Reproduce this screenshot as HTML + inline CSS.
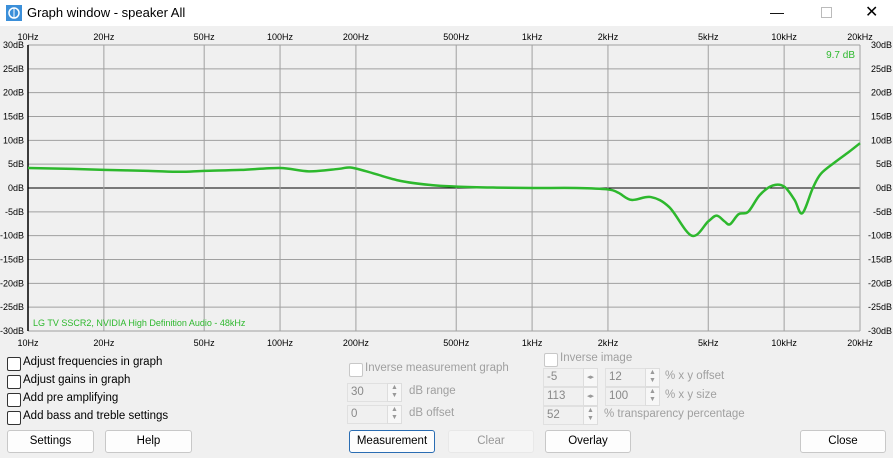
<!DOCTYPE html>
<html><head><meta charset="utf-8"><style>
body{margin:0;width:893px;height:458px;background:#f0f0f0;font-family:"Liberation Sans",sans-serif;position:relative;overflow:hidden}
.a{position:absolute}
.t{font-size:11.5px;color:#000}
.g{color:#a0a0a0}
.cb{position:absolute;width:12px;height:12px;border:1px solid #333;background:#fff;border-radius:2px}
.cbd{border-color:#c8c8c8}
.btn{position:absolute;height:21px;border:1px solid #c8c8c8;background:#fdfdfd;border-radius:3px;font-size:11.5px;text-align:center;line-height:21px}
.inp{position:absolute;height:17px;background:#f0f0f0;border:1px solid #e0e0e0;font-size:11.5px;color:#888;line-height:17px;padding-left:3px}
.spin{position:absolute;width:13px;height:17px;border:1px solid #ddd;background:#f7f7f7;font-size:7px;color:#999;text-align:center;line-height:8px}
</style></head><body>
<div class="a" style="left:0;top:0;width:893px;height:26px;background:#fff"></div>
<svg class="a" style="left:6px;top:5px" width="16" height="16"><rect x="0" y="0" width="16" height="16" fill="#3b8fd9"/><circle cx="8" cy="8" r="5" fill="none" stroke="#fff" stroke-width="1.5"/><line x1="8" y1="3" x2="8" y2="13" stroke="#fff"/></svg>
<div class="a t" style="left:27px;top:5px;font-size:13px">Graph window - speaker All</div>
<div class="a" style="left:770px;top:4px;font-size:14px">—</div>
<div class="a" style="left:821px;top:4px;width:9px;height:9px;border:1px solid #bbb;margin-top:3px"></div>
<div class="a" style="left:865px;top:2px;font-size:16px">✕</div>

<svg id="chart" class="a" style="left:0;top:26px" width="893" height="324"></svg>

<div class="cb" style="left:7px;top:357px"></div>
<div class="a t" style="left:23px;top:356px">Adjust frequencies in graph</div>
<div class="cb" style="left:7px;top:375px"></div>
<div class="a t" style="left:23px;top:374px">Adjust gains in graph</div>
<div class="cb" style="left:7px;top:393px"></div>
<div class="a t" style="left:23px;top:392px">Add pre amplifying</div>
<div class="cb" style="left:7px;top:411px"></div>
<div class="a t" style="left:23px;top:410px">Add bass and treble settings</div>

<div class="cb cbd" style="left:349px;top:363px"></div>
<div class="a t g" style="left:365px;top:362px">Inverse measurement graph</div>
<div class="inp" style="left:347px;top:383px;width:36px">30</div>
<div class="spin" style="left:387px;top:383px">▲<br>▼</div>
<div class="a t g" style="left:409px;top:385px">dB range</div>
<div class="inp" style="left:347px;top:405px;width:36px">0</div>
<div class="spin" style="left:387px;top:405px">▲<br>▼</div>
<div class="a t g" style="left:409px;top:407px">dB offset</div>

<div class="cb cbd" style="left:544px;top:353px"></div>
<div class="a t g" style="left:560px;top:352px">Inverse image</div>
<div class="inp" style="left:543px;top:368px;width:36px">-5</div>
<div class="spin" style="left:583px;top:368px;line-height:17px">◂▸</div>
<div class="inp" style="left:605px;top:368px;width:36px">12</div>
<div class="spin" style="left:645px;top:368px">▲<br>▼</div>
<div class="a t g" style="left:665px;top:370px">% x y offset</div>
<div class="inp" style="left:543px;top:387px;width:36px">113</div>
<div class="spin" style="left:583px;top:387px;line-height:17px">◂▸</div>
<div class="inp" style="left:605px;top:387px;width:36px">100</div>
<div class="spin" style="left:645px;top:387px">▲<br>▼</div>
<div class="a t g" style="left:665px;top:389px">% x y size</div>
<div class="inp" style="left:543px;top:406px;width:36px">52</div>
<div class="spin" style="left:583px;top:406px">▲<br>▼</div>
<div class="a t g" style="left:604px;top:408px">% transparency percentage</div>

<div class="btn" style="left:7px;top:430px;width:85px">Settings</div>
<div class="btn" style="left:105px;top:430px;width:85px">Help</div>
<div class="btn" style="left:349px;top:430px;width:84px;border-color:#2a6db3">Measurement</div>
<div class="btn" style="left:448px;top:430px;width:84px;color:#999;background:#f5f5f5;border-color:#e8e8e8">Clear</div>
<div class="btn" style="left:545px;top:430px;width:84px">Overlay</div>
<div class="btn" style="left:800px;top:430px;width:84px">Close</div>

<script>
const freqs=[10,15,20,30,40,50,70,100,130,170,190,220,300,400,500,700,1000,1500,2000,2200,2480,2960,3500,4300,5000,5400,5800,6100,6600,7200,8000,9000,10000,11000,11800,13000,14000,16000,18000,20000];
const gains=[4.2,4,3.8,3.6,3.4,3.6,3.8,4.2,3.5,4,4.3,3.5,1.5,0.6,0.3,0.1,0,0,-0.3,-1,-2.5,-1.9,-4,-10,-7,-5.8,-7,-7.6,-5.5,-5,-1.5,0.5,0.3,-2.5,-5.3,0,3,5.5,7.5,9.4];
const xTicks=[10,20,50,100,200,500,1000,2000,5000,10000,20000];
const xTickLabels=["10Hz","20Hz","50Hz","100Hz","200Hz","500Hz","1kHz","2kHz","5kHz","10kHz","20kHz"];
const yTicks=[30,25,20,15,10,5,0,-5,-10,-15,-20,-25,-30];
const peakLabel="9.7 dB";
const ns="http://www.w3.org/2000/svg";
const svg=document.getElementById('chart');
const L=28,R=860,T=19,B=305;
const xs=f=>L+(R-L)*Math.log10(f/10)/Math.log10(2000);
const ys=d=>T+(B-T)*(30-d)/60;
function mk(tag,at,txt){const e=document.createElementNS(ns,tag);for(const k in at)e.setAttribute(k,at[k]);if(txt!==undefined)e.textContent=txt;svg.appendChild(e);return e;}
const bg=mk('rect',{x:L,y:T,width:R-L,height:B-T,fill:'#f0f0f0'});


yTicks.forEach(d=>{const y=ys(d);
 const l=mk('line',{x1:L,x2:R,y1:y,y2:y,stroke:d===0?'#000':'#a0a0a0','stroke-width':1});
 
 
 const t1=mk('text',{x:L-4,y:y+3,'text-anchor':'end','font-size':9,fill:'#000'},d+'dB');
 
 
 const t2=mk('text',{x:R+32,y:y+3,'text-anchor':'end','font-size':9,fill:'#000'},d+'dB');
 
 
});
xTicks.forEach((f,i)=>{const x=xs(f);
 const l=mk('line',{x1:x,x2:x,y1:T,y2:B,stroke:i===0?'#000':'#a0a0a0','stroke-width':i===0?1.5:1});
 
 
 const t1=mk('text',{x:x,y:T-5,'text-anchor':'middle','font-size':9,fill:'#000'},xTickLabels[i]);
 
 
 const t2=mk('text',{x:x,y:B+15,'text-anchor':'middle','font-size':9,fill:'#000'},xTickLabels[i]);
 
 
});
const pts=freqs.map((f,i)=>[xs(f),ys(gains[i])]);
let d='M'+pts[0][0]+','+pts[0][1];
for(let i=0;i<pts.length-1;i++){const p0=pts[Math.max(0,i-1)],p1=pts[i],p2=pts[i+1],p3=pts[Math.min(pts.length-1,i+2)];
 d+=' C'+(p1[0]+(p2[0]-p0[0])/6)+','+(p1[1]+(p2[1]-p0[1])/6)+' '+(p2[0]-(p3[0]-p1[0])/6)+','+(p2[1]-(p3[1]-p1[1])/6)+' '+p2[0]+','+p2[1];}
const path=mk('path',{d:d,fill:'none',stroke:'#2db82d','stroke-width':2.5});


const pk=mk('text',{x:R-5,y:T+13,'text-anchor':'end','font-size':10,fill:'#2db82d'},peakLabel);


const dev=mk('text',{x:L+5,y:B-5,'font-size':9,fill:'#2db82d'},'LG TV SSCR2, NVIDIA High Definition Audio - 48kHz');


</script>
</body></html>
